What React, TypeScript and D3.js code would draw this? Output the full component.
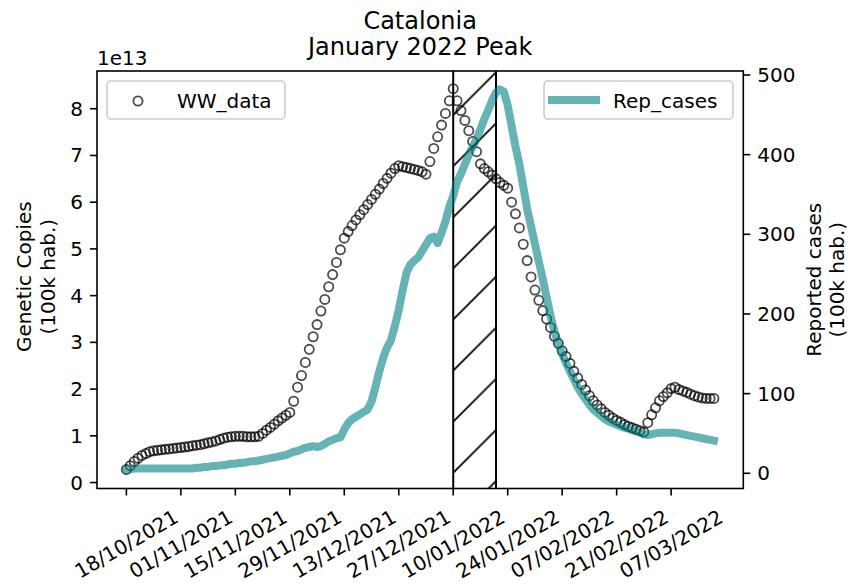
import React from "react";
import * as d3 from "d3";

// Daily series starting on this date
const startDate = "2021-10-18";

// Wastewater genetic copies (x 1e13 per 100k inhabitants), one value per day
const wwData = [
  0.28, 0.36, 0.45, 0.52, 0.58, 0.62, 0.66, 0.68, 0.69, 0.7,
  0.71, 0.72, 0.73, 0.74, 0.75, 0.76, 0.77, 0.79, 0.8, 0.81,
  0.83, 0.85, 0.87, 0.89, 0.92, 0.95, 0.97, 0.98, 0.99, 0.99,
  0.99, 0.98, 0.98, 0.98, 0.99, 1.05, 1.12, 1.18, 1.25, 1.32,
  1.38, 1.44, 1.5, 1.74, 2.04, 2.29, 2.57, 2.85, 3.12, 3.38,
  3.67, 3.92, 4.19, 4.45, 4.71, 4.98, 5.23, 5.37, 5.5, 5.62,
  5.73, 5.84, 5.95, 6.06, 6.17, 6.28, 6.4, 6.51, 6.62, 6.72,
  6.78, 6.76, 6.74, 6.72, 6.7, 6.68, 6.65, 6.6, 6.87, 7.15,
  7.4, 7.65, 7.9, 8.17, 8.43, 8.17, 7.96, 7.75, 7.53, 7.3,
  7.08, 6.82, 6.72, 6.65, 6.58, 6.5, 6.42, 6.36, 6.3, 6.0,
  5.75, 5.45, 5.1, 4.75, 4.4, 4.12, 3.9, 3.68, 3.5, 3.32,
  3.13, 2.98, 2.82, 2.7, 2.55, 2.38, 2.24, 2.1, 1.98, 1.86,
  1.75, 1.66, 1.58, 1.5, 1.44, 1.38, 1.33, 1.29, 1.24, 1.2,
  1.17, 1.14, 1.11, 1.08, 1.28, 1.45, 1.6, 1.75, 1.84, 1.92,
  2.01, 2.04, 1.99, 1.96, 1.93, 1.89, 1.86, 1.83, 1.81, 1.8,
  1.8, 1.8,
];

// Reported cases per 100k inhabitants, one value per day
const repCases = [
  4, 5, 6, 6, 6, 6, 6, 6, 6, 6,
  6, 6, 6, 6, 6, 6, 6, 6, 7, 7,
  8, 8, 9, 9, 10, 10, 11, 12, 12, 13,
  13, 14, 15, 15, 16, 17, 18, 19, 20, 21,
  22, 23, 25, 27, 28, 30, 32, 33, 34, 33,
  34, 37, 40, 42, 44, 45, 55, 63, 68, 71,
  74, 77, 80, 90, 108, 128, 145, 158, 167, 185,
  205, 230, 252, 262, 267, 271, 279, 287, 295, 297,
  289, 302, 316, 335, 348, 366, 376, 388, 400, 410,
  420, 432, 445, 456, 468, 478, 482, 479, 462, 436,
  410, 388, 360, 332, 310, 288, 266, 244, 221, 198,
  178, 163, 150, 138, 128, 118, 108, 100, 93, 86,
  80, 76, 72, 68, 65, 63, 61, 59, 57, 56,
  54, 53, 51, 49, 48, 49, 50, 51, 51, 51,
  51, 51, 50, 49, 48, 47, 46, 45, 44, 43,
  42, 41,
];

// Highlighted peak window
const peakWindow = ["2022-01-10", "2022-01-21"];

const xTickLabels = [
  "18/10/2021", "01/11/2021", "15/11/2021", "29/11/2021", "13/12/2021",
  "27/12/2021", "10/01/2022", "24/01/2022", "07/02/2022", "21/02/2022",
  "07/03/2022",
];
const leftTicks = [0, 1, 2, 3, 4, 5, 6, 7, 8];
const rightTicks = [0, 100, 200, 300, 400, 500];

const titleLines = ["Catalonia", "January 2022 Peak"];
const leftLabel = ["Genetic Copies", "(100k hab.)"];
const rightLabel = ["Reported cases", "(100k hab.)"];

const DAY = 86400000;
const parseIso = (s: string) => new Date(s + "T00:00:00Z");
const parseDmy = (s: string) => {
  const [d, m, y] = s.split("/").map(Number);
  return new Date(Date.UTC(y, m - 1, d));
};

export default function App() {
  const W = 848;
  const H = 587;
  const left = 97;
  const right = 743.3;
  const top = 71;
  const bottom = 488.5;
  const font = "DejaVu Sans, sans-serif";

  const t0 = parseIso(startDate);
  const dates = wwData.map((_, i) => new Date(t0.getTime() + i * DAY));
  const first = dates[0].getTime();
  const last = dates[dates.length - 1].getTime();
  const pad = (last - first) * 0.05;

  const x = d3.scaleUtc().domain([new Date(first - pad), new Date(last + pad)]).range([left, right]);

  const wwExtent = d3.extent(wwData) as [number, number];
  const wwPad = (wwExtent[1] - wwExtent[0]) * 0.05;
  const yL = d3.scaleLinear().domain([wwExtent[0] - wwPad, wwExtent[1] + wwPad - 0.03]).range([bottom, top]);
  const yR = d3.scaleLinear().domain([-19.1, 505]).range([bottom, top]);

  const line = d3
    .line<number>()
    .x((_, i) => x(dates[i]))
    .y((v) => yR(v));

  const x0 = x(parseIso(peakWindow[0]));
  const x1 = x(parseIso(peakWindow[1]));

  // spacing of the diagonal hatch lattice
  const hs = 51.1;

  return (
    <svg
      width={W}
      height={H}
      style={{ position: "absolute", left: 0, top: 0, background: "#fff" }}
      fontFamily={font}
    >
      <defs>
        <pattern id="hatch" patternUnits="userSpaceOnUse" x={0} y={6.2} width={hs} height={hs}>
          <path
            d={`M0,${hs} L${hs},0 M-2,2 L2,-2 M${hs - 2},${hs + 2} L${hs + 2},${hs - 2}`}
            stroke="#000"
            strokeWidth={1.8}
          />
        </pattern>
        <clipPath id="plot">
          <rect x={left} y={top} width={right - left} height={bottom - top} />
        </clipPath>
      </defs>

      {/* title */}
      {titleLines.map((t, i) => (
        <text key={t} x={(left + right) / 2} y={29 + i * 26} textAnchor="middle" fontSize={24} fill="#000">
          {t}
        </text>
      ))}

      {/* peak window */}
      <rect x={x0} y={top} width={x1 - x0} height={bottom - top} fill="url(#hatch)" />
      <line x1={x0} x2={x0} y1={top} y2={bottom} stroke="#000" strokeWidth={2} />
      <line x1={x1} x2={x1} y1={top} y2={bottom} stroke="#000" strokeWidth={2} />

      {/* wastewater markers */}
      <g clipPath="url(#plot)">
        {wwData.map((v, i) => (
          <circle
            key={i}
            cx={x(dates[i])}
            cy={yL(v)}
            r={4.6}
            fill="none"
            stroke="#000"
            strokeOpacity={0.7}
            strokeWidth={1.8}
          />
        ))}
      </g>

      {/* reported cases */}
      <path
        d={line(repCases) || ""}
        fill="none"
        stroke="teal"
        strokeOpacity={0.6}
        strokeWidth={8}
        strokeLinejoin="round"
        strokeLinecap="square"
        clipPath="url(#plot)"
      />

      {/* spines */}
      <rect x={left} y={top} width={right - left} height={bottom - top} fill="none" stroke="#000" strokeWidth={1.6} />

      {/* x axis */}
      {xTickLabels.map((lab) => {
        const px = x(parseDmy(lab));
        return (
          <g key={lab}>
            <line x1={px} x2={px} y1={bottom} y2={bottom + 7} stroke="#000" strokeWidth={1.6} />
            <text
              x={px}
              y={544}
              transform={`rotate(-30 ${px} 544)`}
              textAnchor="middle"
              dominantBaseline="central"
              fontSize={20}
              fill="#000"
            >
              {lab}
            </text>
          </g>
        );
      })}

      {/* left axis */}
      {leftTicks.map((v) => (
        <g key={v}>
          <line x1={left - 7} x2={left} y1={yL(v)} y2={yL(v)} stroke="#000" strokeWidth={1.6} />
          <text x={left - 14} y={yL(v)} textAnchor="end" dominantBaseline="central" fontSize={20} fill="#000">
            {v}
          </text>
        </g>
      ))}
      <text x={left} y={65} fontSize={20} fill="#000">1e13</text>
      {leftLabel.map((t, i) => {
        const lx = 31 + i * 24;
        const ly = (top + bottom) / 2 - 3;
        return (
          <text key={t} x={lx} y={ly} transform={`rotate(-90 ${lx} ${ly})`} textAnchor="middle" fontSize={20} fill="#000">
            {t}
          </text>
        );
      })}

      {/* right axis */}
      {rightTicks.map((v) => (
        <g key={v}>
          <line x1={right} x2={right + 7} y1={yR(v)} y2={yR(v)} stroke="#000" strokeWidth={1.6} />
          <text x={right + 14} y={yR(v)} dominantBaseline="central" fontSize={20} fill="#000">
            {v}
          </text>
        </g>
      ))}
      {rightLabel.map((t, i) => {
        const lx = 821 + i * 23;
        const ly = (top + bottom) / 2;
        return (
          <text key={t} x={lx} y={ly} transform={`rotate(-90 ${lx} ${ly})`} textAnchor="middle" fontSize={20} fill="#000">
            {t}
          </text>
        );
      })}

      {/* legends */}
      <g>
        <rect x={107} y={81} width={178} height={38} rx={4} fill="#fff" fillOpacity={0.8} stroke="#ccc" strokeWidth={1.6} />
        <circle cx={138} cy={101} r={4.6} fill="none" stroke="#000" strokeOpacity={0.7} strokeWidth={1.8} />
        <text x={177} y={101} dominantBaseline="central" fontSize={20} fill="#000">WW_data</text>
      </g>
      <g>
        <rect x={544} y={81} width={189} height={38} rx={4} fill="#fff" fillOpacity={0.8} stroke="#ccc" strokeWidth={1.6} />
        <line x1={552} x2={596} y1={100} y2={100} stroke="teal" strokeOpacity={0.6} strokeWidth={8} strokeLinecap="square" />
        <text x={613} y={101} dominantBaseline="central" fontSize={20} fill="#000">Rep_cases</text>
      </g>
    </svg>
  );
}
